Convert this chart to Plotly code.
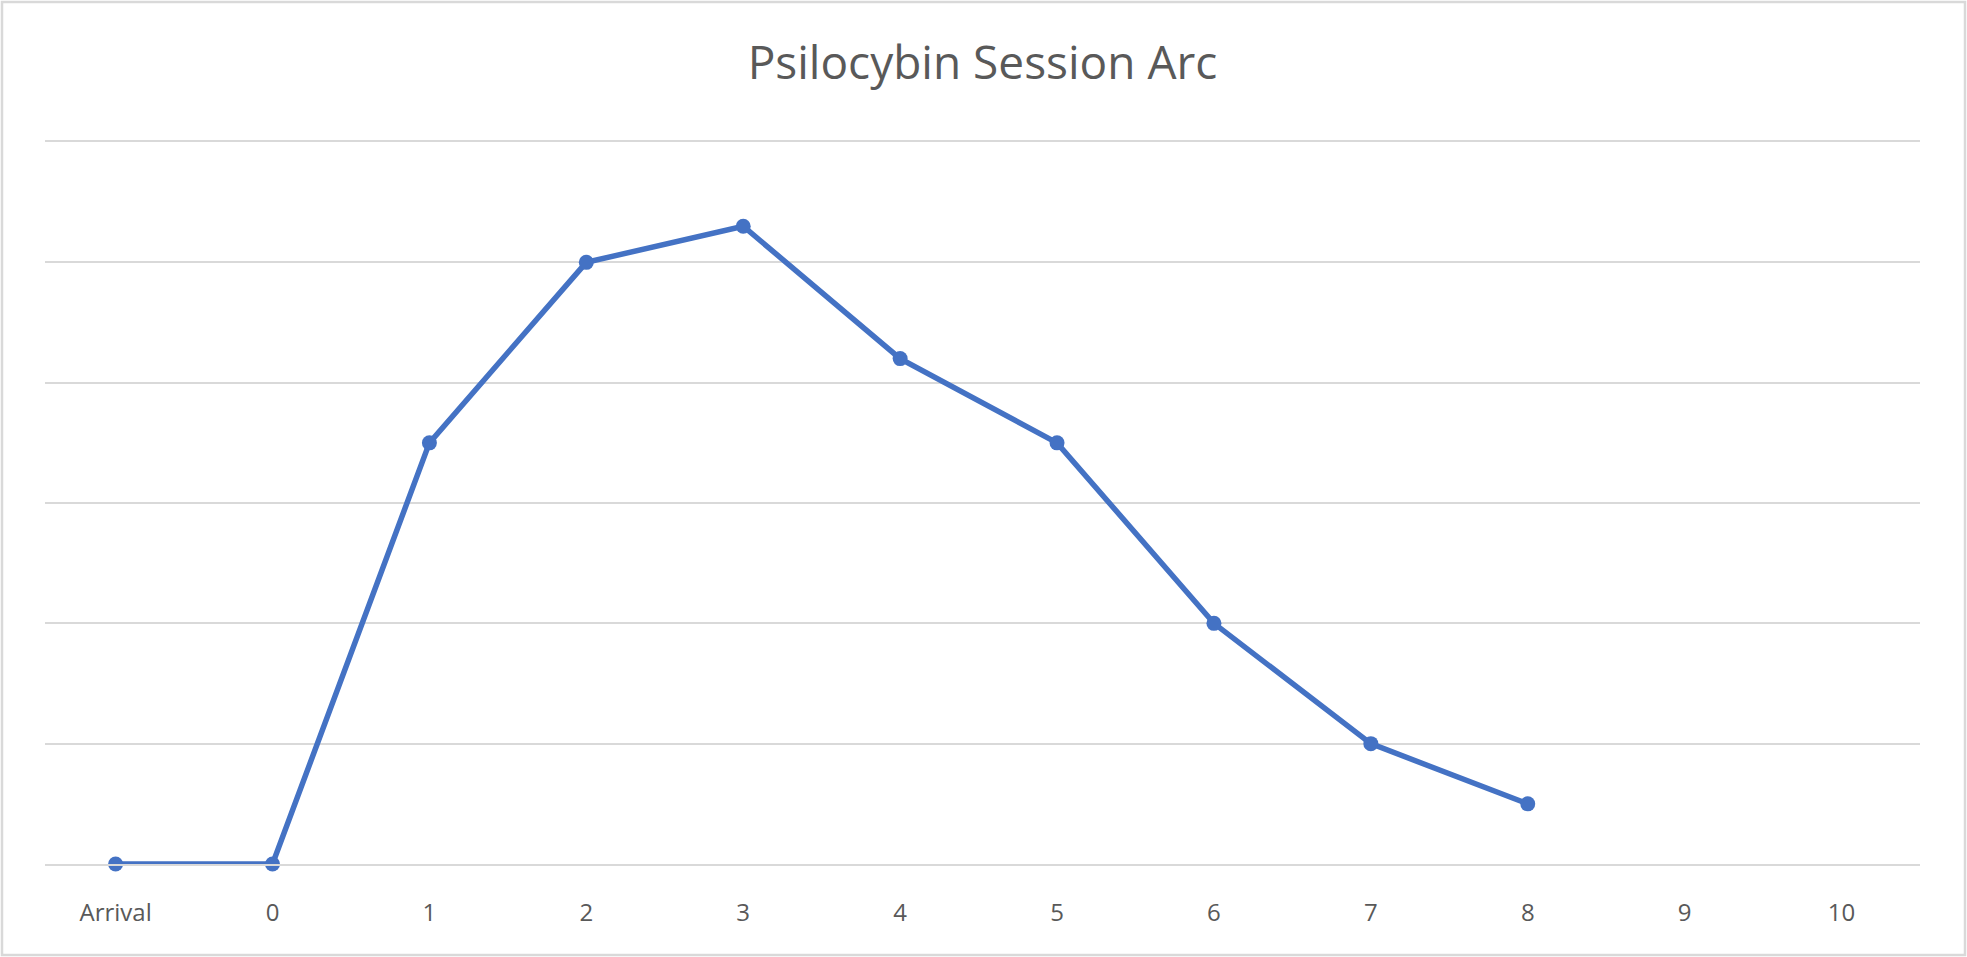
import plotly.graph_objects as go

categories = ["Arrival", "0", "1", "2", "3", "4", "5", "6", "7", "8", "9", "10"]
intensity = [0, 0, 3.5, 5.0, 5.3, 4.2, 3.5, 2.0, 1.0, 0.5, None, None]
title_text = "Psilocybin Session Arc"

W, H = 1967, 957
ML, MR, MT, MB = 45, 47, 142, 93
pw, ph = W - ML - MR, H - MT - MB

fig = go.Figure()
fig.add_trace(go.Scatter(
    x=categories, y=intensity, mode="lines+markers",
    line=dict(color="#4472C4", width=5.5),
    marker=dict(color="#4472C4", size=15, symbol="circle"),
    cliponaxis=False, connectgaps=False, showlegend=False,
))

# chart border
bx0, bx1 = (2 - ML) / pw, (W - 2 - ML) / pw
by0 = -(MB - 2) / ph
by1 = 1 + (MT - 2) / ph
fig.add_shape(type="rect", xref="paper", yref="paper", x0=bx0, x1=bx1, y0=by0, y1=by1,
              line=dict(color="#d9d9d9", width=2.5), fillcolor="rgba(0,0,0,0)", layer="below")

fig.update_layout(
    width=W, height=H,
    margin=dict(l=ML, r=MR, t=MT, b=MB, pad=0),
    paper_bgcolor="white", plot_bgcolor="white",
    title=dict(text=title_text, x=0.5, xref="paper", xanchor="center",
               y=1 - 63 / H, yref="container", yanchor="middle",
               font=dict(family="Open Sans, Liberation Sans, sans-serif", size=46, color="#595959")),
    font=dict(family="Open Sans, Liberation Sans, sans-serif", color="#595959"),
    xaxis=dict(type="category", categoryorder="array", categoryarray=categories,
               range=[-0.45, len(categories) - 0.5], showgrid=False, zeroline=False,
               showline=True, mirror=True, linecolor="#d9d9d9", linewidth=2,
               ticks="outside", ticklen=26, tickcolor="rgba(0,0,0,0)",
               tickfont=dict(size=24, color="#595959")),
    yaxis=dict(range=[0, 6], dtick=1, showgrid=True, gridcolor="#d9d9d9", gridwidth=2,
               zeroline=False, showticklabels=False, showline=False, fixedrange=True),
)

fig.write_html("out.html", config={"displayModeBar": False},
               post_script="document.body.style.margin='0';document.body.style.overflow='hidden';")
